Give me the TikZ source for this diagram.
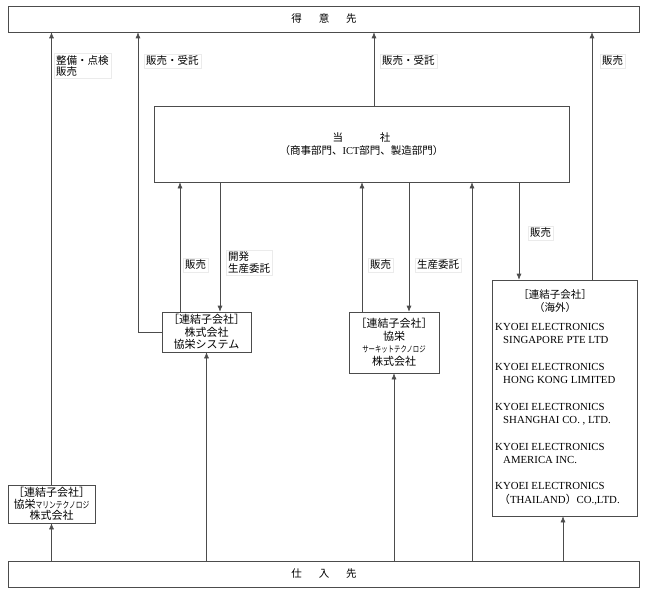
\documentclass[tikz,border=0pt]{standalone}
\usepackage{fontspec}
\setmainfont{Noto Sans CJK JP}
\newfontfamily\latin{Liberation Serif}
\newfontfamily\kana[FakeStretch=0.75]{Noto Sans CJK JP}
\usetikzlibrary{arrows.meta}

\begin{document}
\begin{tikzpicture}[x=1pt,y=-1pt,
  box/.style={draw=black!70,line width=.6pt,align=center,inner sep=1pt,font=\fontsize{11}{12.5}\selectfont},
  tag/.style={fill=white,draw=black!8,inner sep=2pt,align=left,font=\fontsize{10.5}{11.5}\selectfont},
  flow/.style={draw=black!70,line width=.6pt,-{Latex[length=6pt,width=5pt]}}]
\useasboundingbox (0,0) rectangle (645,594);
% boxes
\node[box,minimum width=631,minimum height=26,font=\fontsize{10.5}{12}\selectfont] (cust) at (324,19) {得\hspace{1.6em}意\hspace{1.6em}先};
\node[box,minimum width=631,minimum height=26,font=\fontsize{10.5}{12}\selectfont] (supp) at (324,574) {仕\hspace{1.6em}入\hspace{1.6em}先};
\node[box,minimum width=415,minimum height=76,font=\fontsize{10.5}{12.5}\selectfont] (hq) at (361.5,144)
  {当\hspace{3.5em}社\\（商事部門、{\latin ICT}部門、製造部門）};
\node[box,minimum width=89,minimum height=40] (sys) at (206.5,332) {［連結子会社］\\株式会社\\協栄システム};
\node[box,minimum width=90,minimum height=61] (circ) at (394,342.5)
  {［連結子会社］\\協栄\\{\kana\fontsize{8.5}{12.5}\selectfont サーキットテクノロジ}\\株式会社};
\node[box,minimum width=87,minimum height=38,font=\fontsize{11}{11.5}\selectfont] (marine) at (51.5,504)
  {［連結子会社］\\協栄{\kana\fontsize{9}{11.5}\selectfont マリンテクノロジ}\\株式会社};
\node[box,minimum width=145,minimum height=236] (ovs) at (564.5,398) {};
\node[align=center,inner sep=0,font=\fontsize{10.5}{13}\selectfont] (ovs-head) at (555,301) {［連結子会社］\\（海外）};
\node[anchor=north west,align=left,inner sep=0,font=\latin\fontsize{10.8}{13.3}\selectfont] (ovs-list) at (495,323)
  {KYOEI ELECTRONICS\\\hspace*{8pt}SINGAPORE PTE LTD\\[13.3pt]
   KYOEI ELECTRONICS\\\hspace*{8pt}HONG KONG LIMITED\\[13.3pt]
   KYOEI ELECTRONICS\\\hspace*{8pt}SHANGHAI CO. , LTD.\\[13.3pt]
   KYOEI ELECTRONICS\\\hspace*{8pt}AMERICA INC.\\[13.3pt]
   KYOEI ELECTRONICS\\\hspace*{4pt}{\normalfont （}THAILAND{\normalfont ）}CO.,LTD.};
% columns
\coordinate (k1) at (138,0);
\coordinate (k2) at (180,0);
\coordinate (k3) at (220,0);
\coordinate (k4) at (374,0);
\coordinate (k5) at (362,0);
\coordinate (k6) at (409,0);
\coordinate (k7) at (472,0);
\coordinate (k8) at (519,0);
\coordinate (k9) at (592,0);
\coordinate (k10) at (563,0);
% flows
\draw[flow] (marine.north) -- (cust.south -| marine.north);
\draw[flow] (supp.north -| marine.south) -- (marine.south);
\draw[flow] (sys.west) -| (cust.south -| k1);
\draw[flow] (sys.north -| k2) -- (hq.south -| k2);
\draw[flow] (hq.south -| k3) -- (sys.north -| k3);
\draw[flow] (supp.north -| sys.south) -- (sys.south);
\draw[flow] (hq.north -| k4) -- (cust.south -| k4);
\draw[flow] (circ.north -| k5) -- (hq.south -| k5);
\draw[flow] (hq.south -| k6) -- (circ.north -| k6);
\draw[flow] (supp.north -| circ.south) -- (circ.south);
\draw[flow] (supp.north -| k7) -- (hq.south -| k7);
\draw[flow] (hq.south -| k8) -- (ovs.north -| k8);
\draw[flow] (ovs.north -| k9) -- (cust.south -| k9);
\draw[flow] (supp.north -| k10) -- (ovs.south -| k10);
% labels
\node[tag,anchor=north west] (t1) at (54,53) {整備・点検\\販売};
\node[tag,anchor=west] (t2) at (144,61) {販売・受託};
\node[tag,anchor=west] (t3) at (380,61) {販売・受託};
\node[tag,anchor=west] (t4) at (600,61) {販売};
\node[tag,anchor=west] (t5) at (183,265) {販売};
\node[tag,anchor=north west] (t6) at (226,250) {開発\\生産委託};
\node[tag,anchor=west] (t7) at (368,265) {販売};
\node[tag,anchor=west] (t8) at (415,265) {生産委託};
\node[tag,anchor=west] (t9) at (528,233) {販売};
\end{tikzpicture}
\end{document}
